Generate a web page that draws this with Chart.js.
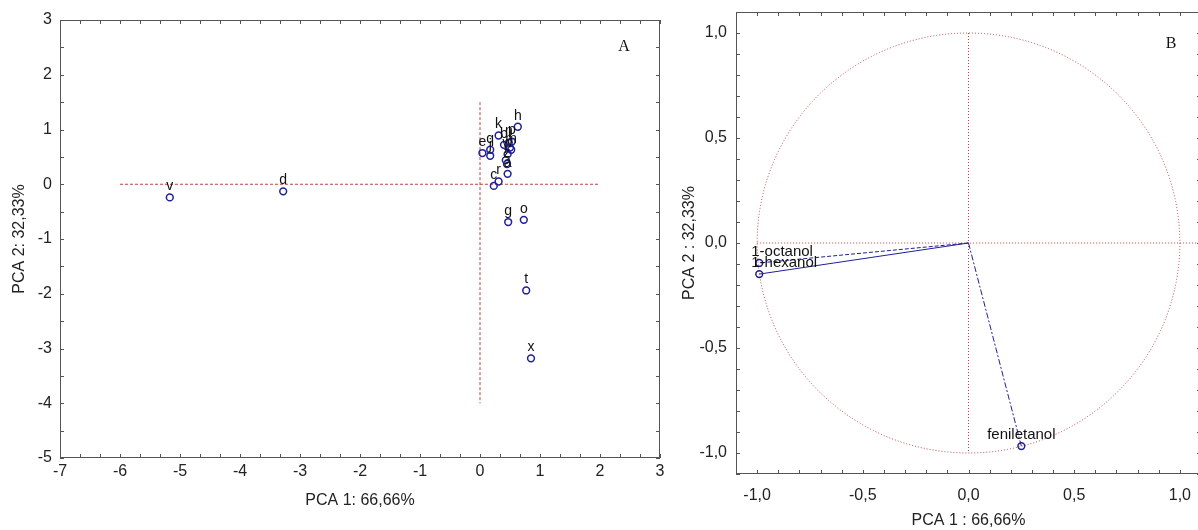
<!DOCTYPE html>
<html>
<head>
<meta charset="utf-8">
<script src="https://cdn.jsdelivr.net/npm/chart.js@4.4.1/dist/chart.umd.min.js"></script>
<style>
  body { margin: 0; background: #fff; width: 1198px; height: 530px; overflow: hidden; position: relative; }
  #wrapA { position: absolute; left: 0; top: 0; width: 680px; height: 530px; }
  #wrapB { position: absolute; left: 680px; top: -8px; width: 530px; height: 538px; }
</style>
</head>
<body>
<div id="wrapA"><canvas id="pcaA"></canvas></div>
<div id="wrapB"><canvas id="pcaB"></canvas></div>
<script>
// ---- panel A: scores ----
const scoreLabels = ['v', 'd', 'h', 'k', 'b', 'n', 'p', 'l', 'm', 'w', 'i', 'z', 'a', 'e', 'q', 'j', 'c', 'r', 'g', 'o', 't', 'x'];
const scoreX = [-5.17, -3.28, 0.63, 0.31, 0.40, 0.48, 0.53, 0.50, 0.52, 0.46, 0.43, 0.45, 0.46, 0.04, 0.17, 0.17, 0.23, 0.31, 0.47, 0.73, 0.77, 0.85];
const scoreY = [-0.24, -0.13, 1.05, 0.89, 0.72, 0.76, 0.78, 0.67, 0.63, 0.55, 0.44, 0.37, 0.19, 0.57, 0.63, 0.52, -0.03, 0.05, -0.69, -0.65, -1.94, -3.18];
const hLineAX = [-6, 2], hLineAY = [0, 0];
const vLineAX = [0, 0], vLineAY = [1.5, -4];
const ticksAX = [-7, -6, -5, -4, -3, -2, -1, 0, 1, 2, 3];
const ticksAY = [-5, -4, -3, -2, -1, 0, 1, 2, 3];

// ---- panel B: loadings ----
const loadNames = ['1-octanol', '1-hexanol', 'feniletanol'];
const loadX = [-0.99, -0.99, 0.25];
const loadY = [-0.095, -0.148, -0.967];
const hLineBX = [-1, 1.1], hLineBY = [0, 0];
const vLineBX = [0, 0], vLineBY = [1, -1];
const ticksB = [-1, -0.5, 0, 0.5, 1];

const FONT = 'Liberation Sans, Arial, sans-serif';
const BLUE = '#1f1f9a';
const RED = '#c04040';
const pts = (xs, ys) => xs.map((v, i) => ({ x: v, y: ys[i] }));
const comma = v => v.toFixed(1).replace('.', ',');

// frame with inward ticks, panel letter, point labels
const framePlugin = {
  id: 'frame',
  beforeDatasetsDraw(chart, args, o) {
    if (!o.circle) return;
    const { ctx, scales: { x, y } } = chart;
    const cx = x.getPixelForValue(0), cy = y.getPixelForValue(0);
    ctx.save();
    ctx.strokeStyle = RED;
    ctx.lineWidth = 1;
    ctx.setLineDash([1, 2]);
    ctx.beginPath();
    ctx.ellipse(cx, cy, x.getPixelForValue(1) - cx, cy - y.getPixelForValue(1), 0, 0, Math.PI * 2);
    ctx.stroke();
    ctx.restore();
  },
  afterDraw(chart, args, o) {
    const { ctx, chartArea: a, scales: { x, y } } = chart;
    ctx.save();
    ctx.strokeStyle = '#555';
    ctx.lineWidth = 1;
    ctx.strokeRect(a.left + 0.5, a.top + 0.5, a.right - a.left - 1, a.bottom - a.top - 1);
    ctx.beginPath();
    const nx = Math.round((x.max - x.min) / o.xStep);
    for (let i = 0; i <= nx; i++) {
      const p = Math.round(x.getPixelForValue(x.min + i * o.xStep)) + 0.5;
      ctx.moveTo(p, a.top); ctx.lineTo(p, a.top + 4);
      ctx.moveTo(p, a.bottom); ctx.lineTo(p, a.bottom - 4);
    }
    const ny = Math.round((y.max - y.min) / o.yStep);
    for (let i = 0; i <= ny; i++) {
      const p = Math.round(y.getPixelForValue(y.min + i * o.yStep)) + 0.5;
      ctx.moveTo(a.left, p); ctx.lineTo(a.left + 4, p);
      ctx.moveTo(a.right, p); ctx.lineTo(a.right - 4, p);
    }
    ctx.stroke();

    ctx.fillStyle = '#111';
    ctx.font = '16px Liberation Serif, Times New Roman, serif';
    ctx.textAlign = 'center';
    ctx.textBaseline = 'middle';
    ctx.fillText(o.letter, a.right - o.letterDx, a.top + o.letterDy);

    ctx.font = o.labelFont;
    chart.data.datasets.forEach((ds, di) => {
      if (!ds.pointLabels) return;
      const meta = chart.getDatasetMeta(di);
      meta.data.forEach((el, j) => {
        const txt = ds.pointLabels[j];
        if (!txt) return;
        ctx.textAlign = ds.labelAlign || 'center';
        const dx = ds.labelAlign === 'left' ? -8 : 0;
        ctx.fillText(txt, el.x + dx, el.y - 11);
      });
    });
    ctx.restore();
  }
};

function refLine(xs, ys) {
  return {
    data: pts(xs, ys), showLine: true, pointRadius: 0, borderColor: RED,
    borderWidth: 1, borderDash: [3, 2], fill: false
  };
}

function axis(min, max, tickVals, fmt, size, pad, title, titlePad) {
  return {
    type: 'linear', min, max,
    afterBuildTicks: s => { s.ticks = tickVals.map(v => ({ value: v })); },
    afterFit: s => { if (s.isHorizontal()) s.height = size; else s.width = size; },
    grid: { display: false, drawTicks: false },
    border: { display: false },
    ticks: { callback: fmt, padding: pad, autoSkip: false, maxRotation: 0, color: '#222', font: { family: FONT, size: 16 } },
    title: { display: true, text: title, color: '#222', padding: titlePad, font: { family: FONT, size: 16 } }
  };
}

const common = {
  responsive: true, maintainAspectRatio: false, animation: false,
  plugins: { legend: { display: false }, tooltip: { enabled: false } }
};

new Chart(document.getElementById('pcaA'), {
  type: 'scatter',
  data: {
    datasets: [
      {
        data: pts(scoreX, scoreY), pointLabels: scoreLabels,
        pointRadius: 3.4, pointBorderWidth: 1.5, pointBorderColor: BLUE,
        pointBackgroundColor: 'rgba(255,255,255,0)'
      },
      refLine(hLineAX, hLineAY),
      refLine(vLineAX, vLineAY)
    ]
  },
  options: Object.assign({}, common, {
    layout: { padding: { top: 20, right: 20, left: 0, bottom: 0 } },
    scales: {
      x: axis(-7, 3, ticksAX, v => String(v), 72, 4, 'PCA 1: 66,66%', { top: 0, bottom: 20 }),
      y: axis(-5, 3, ticksAY, v => String(v), 60, 8, 'PCA 2: 32,33%', { top: 10, bottom: 0 })
    },
    plugins: Object.assign({}, common.plugins, {
      frame: { xStep: 1 / 3, yStep: 0.5, letter: 'A', letterDx: 36, letterDy: 27, labelFont: '14px ' + FONT }
    })
  }),
  plugins: [framePlugin]
});

const loadSets = loadNames.map((name, i) => ({
  data: pts([0, loadX[i]], [0, loadY[i]]),
  pointLabels: ['', name],
  labelAlign: i < 2 ? 'left' : 'center',
  showLine: true, borderColor: BLUE, borderWidth: 1,
  borderDash: [[4, 2], [], [6, 2, 2, 2]][i],
  pointRadius: [0, 3.4], pointBorderWidth: 1.5, pointBorderColor: BLUE,
  pointBackgroundColor: 'rgba(255,255,255,0)'
}));

new Chart(document.getElementById('pcaB'), {
  type: 'scatter',
  data: {
    datasets: loadSets.concat([
      Object.assign(refLine(hLineBX, hLineBY), { borderDash: [1, 2] }),
      Object.assign(refLine(vLineBX, vLineBY), { borderDash: [1, 2] })
    ])
  },
  options: Object.assign({}, common, {
    layout: { padding: { top: 20, right: 9, left: 0, bottom: 0 } },
    scales: {
      x: axis(-1.1, 1.1, ticksB, comma, 56, 12, 'PCA 1 : 66,66%', { top: 0, bottom: 0 }),
      y: axis(-1.1, 1.1, ticksB, comma, 56, 9, 'PCA 2 : 32,33%', { top: 0, bottom: 0 })
    },
    plugins: Object.assign({}, common.plugins, {
      frame: { xStep: 0.1, yStep: 0.1, letter: 'B', letterDx: 30, letterDy: 32, labelFont: '15px ' + FONT, circle: true }
    })
  }),
  plugins: [framePlugin]
});
</script>
</body>
</html>
